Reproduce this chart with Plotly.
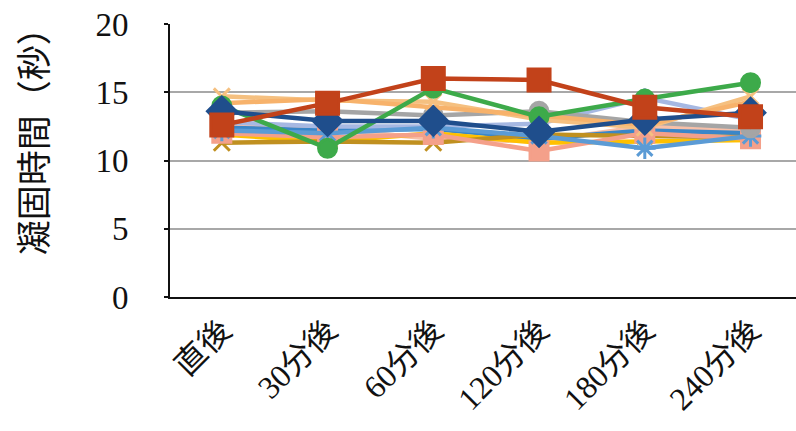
import plotly.graph_objects as go

categories = ["直後", "30分後", "60分後", "120分後", "180分後", "240分後"]

# series values (seconds)
s_pink = [12.6, 12.3, 11.6, 11.4, 12.5, 12.2]
s_teal = [12.4, 12.2, 12.3, 11.6, 12.2, 12.0]
s_lavender = [12.8, 12.5, 12.5, 12.7, 14.6, 13.0]
s_yellow = [11.9, 11.4, 12.0, 11.3, 11.4, 11.5]
s_gold = [11.3, 11.4, 11.3, 11.9, 11.8, 11.7]
s_salmon = [12.0, 11.7, 11.9, 10.7, 12.0, 11.6]
s_lightblue = [12.2, 12.0, 12.4, 11.8, 10.9, 11.8]
s_gray = [13.5, 13.6, 13.3, 13.6, 12.8, 12.4]
s_lightorange = [14.7, 14.4, 14.3, 13.0, 12.4, 14.7]
s_orange = [14.2, 14.5, 13.9, 13.3, 12.6, 14.3]
s_green = [14.0, 10.9, 15.3, 13.2, 14.5, 15.7]
s_navy = [13.6, 12.9, 12.9, 12.1, 13.0, 13.5]
s_red = [12.6, 14.2, 16.0, 15.9, 13.9, 13.2]

series = [
    (s_pink, "#F8C0A8", "circle", 0),
    (s_teal, "#3A86C8", "circle", 0),
    (s_lavender, "#A6B8E2", "cross-thin", 14),
    (s_yellow, "#FFC000", "circle", 0),
    (s_gold, "#C09020", "x-thin", 16),
    (s_salmon, "#F4A08A", "square", 18),
    (s_lightblue, "#5B9BD5", "asterisk", 18),
    (s_gray, "#A5A5A5", "circle", 18),
    (s_lightorange, "#F5C080", "x-thin", 16),
    (s_orange, "#F7B26B", "circle", 0),
    (s_green, "#3DAA4A", "circle", 18),
    (s_navy, "#1F4E8C", "diamond", 22),
    (s_red, "#C2421A", "square", 22),
]

fig = go.Figure()
for vals, col, sym, size in series:
    mode = "lines+markers" if size > 0 else "lines"
    fig.add_trace(go.Scatter(
        x=categories, y=vals, mode=mode,
        line=dict(color=col, width=4.5),
        marker=dict(symbol=sym, size=size, color=col,
                    line=dict(color=col, width=3)),
        showlegend=False,
    ))

fig.update_layout(
    width=796, height=431,
    margin=dict(l=170, r=0, t=24, b=134, autoexpand=False),
    paper_bgcolor="white", plot_bgcolor="white",
    xaxis=dict(
        type="category", range=[-0.49, 5.43],
        showline=True, linecolor="#111", linewidth=2,
        showgrid=False, ticks="", tickangle=-45, automargin=False,
        tickfont=dict(family="Liberation Serif, Noto Sans CJK JP", size=32, color="#111"),
    ),
    yaxis=dict(
        range=[0, 20], tickvals=[0, 5, 10, 15, 20],
        showline=True, linecolor="#111", linewidth=2,
        showgrid=True, gridcolor="#A8A8A8", gridwidth=2,
        ticks="outside", ticklen=4, tickwidth=2, tickcolor="#111",
        ticklabelstandoff=29, automargin=False,
        tickfont=dict(family="Liberation Serif", size=33, color="#111"),
        zeroline=False,
    ),
    annotations=[dict(
        text="凝固時間（秒）", textangle=-90, showarrow=False,
        xref="paper", yref="paper", x=-0.222, y=0.6, xanchor="center", yanchor="middle",
        font=dict(family="Noto Sans CJK JP", size=35, color="#111"),
    )],
)

fig.write_html("out.html", config={"displayModeBar": False},
               post_script="document.body.style.margin='0';")
